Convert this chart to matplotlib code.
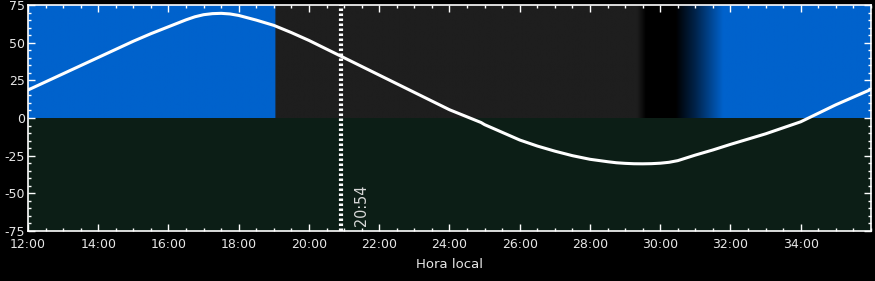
import numpy as np
import matplotlib
matplotlib.use("Agg")
import matplotlib.pyplot as plt
from matplotlib.ticker import MultipleLocator, FixedLocator, FuncFormatter
from matplotlib.colors import to_rgb

# sun altitude (deg) vs local hour
hours = [12, 13, 14, 15, 15.5, 16, 16.5, 16.75, 17, 17.25, 17.5, 17.75, 18,
         18.5, 19, 19.5, 20, 21, 22, 23, 24, 24.9, 25, 26, 26.5, 27, 27.5,
         28, 28.5, 28.75, 29, 29.25, 29.5, 29.75, 30, 30.25, 30.5, 31, 31.5,
         32, 33, 34, 35, 36]
altitude = [18.6, 29.4, 40.2, 51.0, 56.0, 60.6, 65.2, 67.2, 68.6, 69.3, 69.5,
            69.1, 68.1, 65.0, 61.5, 56.7, 51.5, 40.0, 28.5, 17.0, 5.5, -3.0,
            -4.4, -14.6, -18.6, -22.0, -25.0, -27.4, -29.0, -29.7, -30.1,
            -30.35, -30.4, -30.3, -30.0, -29.4, -28.3, -24.6, -21.2, -17.5,
            -10.5, -2.5, 8.8, 19.0]

# sky colour stops above the horizon (hour, colour)
sky_hours = [12.0, 19.03, 19.05, 29.35, 29.6, 30.45, 31.0, 31.8, 36.0]
sky_colors = ['#0062cc', '#0062cc', '#1e1e1e', '#1e1e1e', '#000000',
              '#000000', '#00234a', '#0062cc', '#0062cc']
ground_color = '#0c1e16'

xticks = [12, 14, 16, 18, 20, 22, 24, 26, 28, 30, 32, 34]

now_hour = 20.9
now_label = '20:54'

fg = '#e6e6e6'

fig = plt.figure(figsize=(8.75, 2.81), dpi=100, facecolor='black')
ax = fig.add_axes([0.032, 0.178, 0.9634, 0.804])
ax.set_facecolor('black')

# sky band (y > 0) as a horizontal gradient
xs = np.linspace(12, 36, 1200)
rgb = np.array([to_rgb(c) for c in sky_colors])
img = np.stack([np.interp(xs, sky_hours, rgb[:, i]) for i in range(3)], axis=-1)
ax.imshow(img[np.newaxis, :, :], extent=[12, 36, 0, 75], aspect='auto',
          interpolation='bilinear', zorder=0)
ax.axhspan(-75, 0, color=ground_color, lw=0, zorder=0)

ax.plot(hours, altitude, color='white', lw=2.2, zorder=3,
        solid_joinstyle='round', solid_capstyle='round')
ax.axvline(now_hour, color='white', lw=3, ls=(0, (0.6, 0.6)), zorder=4)
ax.text(now_hour + 0.6, -58, now_label, rotation=90, color='#d8d8d8',
        fontsize=11.5, family=['Liberation Sans Narrow', 'DejaVu Sans'],
        fontstretch='condensed', ha='center', va='center', zorder=5)

ax.set_xlim(12, 36)
ax.set_ylim(-75, 75)
ax.xaxis.set_major_locator(FixedLocator(xticks))
ax.xaxis.set_minor_locator(MultipleLocator(0.5))
ax.yaxis.set_major_locator(MultipleLocator(25))
ax.yaxis.set_minor_locator(MultipleLocator(5))
ax.xaxis.set_major_formatter(FuncFormatter(lambda v, p: f"{int(round(v)):02d}:00"))
ax.yaxis.set_major_formatter(FuncFormatter(lambda v, p: f"{int(v)}"))

ax.tick_params(which='both', direction='in', top=True, right=True,
               color='white', labelcolor=fg, labelsize=9)
ax.tick_params(which='major', length=5, width=1)
ax.tick_params(which='minor', length=2.5, width=1)
ax.tick_params(axis='x', pad=5)
ax.tick_params(axis='y', pad=2)
for s in ax.spines.values():
    s.set_color('white')
    s.set_linewidth(1.2)

ax.set_xlabel('Hora local', color=fg, fontsize=9.5, labelpad=5)

fig.savefig('out.png', dpi=100, facecolor='black')
